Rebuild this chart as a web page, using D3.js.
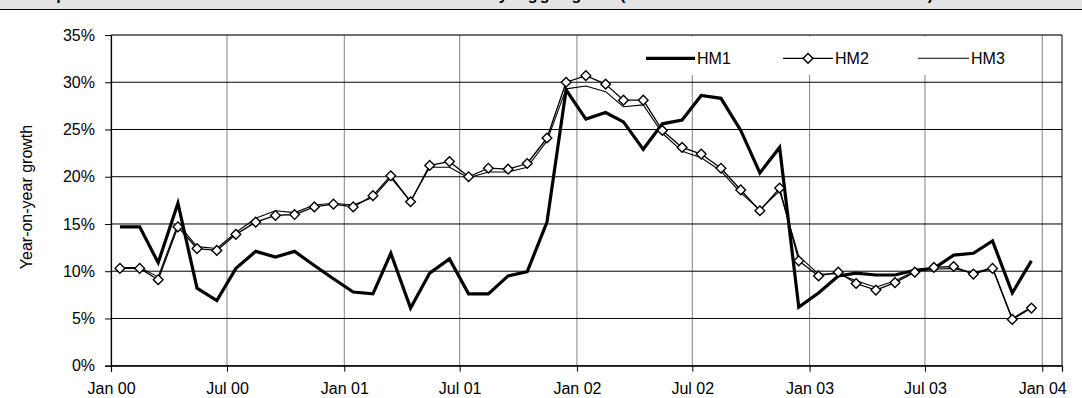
<!DOCTYPE html>
<html>
<head>
<meta charset="utf-8">
<script src="https://cdn.jsdelivr.net/npm/d3@7"></script>
<style>
  html, body { margin: 0; padding: 0; background: #fff; }
  svg { display: block; font-family: "Liberation Sans", Arial, sans-serif; }
</style>
</head>
<body>
<div id="chart"></div>
<script>
(function(){
// data: monthly observations, Jan 2000 - Dec 2003 (plotted mid-month)
const startMonth = "2000-01";
const hm1 = [14.7, 14.7, 10.9, 17.2, 8.2, 6.9, 10.3, 12.1, 11.5, 12.1, 10.6, 9.2,
             7.8, 7.6, 11.9, 6.1, 9.8, 11.3, 7.6, 7.6, 9.5, 9.95, 15.2, 29.2,
             26.1, 26.8, 25.8, 22.9, 25.6, 26.0, 28.6, 28.3, 24.9, 20.4, 23.1, 6.2,
             7.7, 9.5, 9.8, 9.6, 9.6, 10.1, 10.3, 11.7, 11.9, 13.2, 7.7, 11.1];
const hm2 = [10.3, 10.3, 9.1, 14.7, 12.4, 12.2, 13.9, 15.2, 15.9, 16.0, 16.8, 17.1,
             16.8, 18.0, 20.1, 17.35, 21.2, 21.6, 20.0, 20.9, 20.8, 21.4, 24.1, 30.0,
             30.7, 29.8, 28.1, 28.1, 24.9, 23.1, 22.4, 20.9, 18.6, 16.4, 18.8, 11.1,
             9.5, 9.9, 8.7, 8.0, 8.8, 9.9, 10.4, 10.5, 9.7, 10.3, 4.9, 6.1];
const hm3 = [10.4, 10.4, 9.4, 15.0, 12.6, 12.4, 14.1, 15.6, 16.4, 16.2, 17.0, 17.2,
             17.0, 17.8, 19.9, 17.4, 21.0, 21.0, 19.9, 20.5, 20.5, 21.0, 23.8, 29.3,
             29.6, 29.0, 27.4, 27.6, 24.6, 22.7, 22.0, 20.6, 18.3, 16.5, 18.5, 11.6,
             9.7, 9.7, 9.0, 8.3, 9.0, 10.0, 10.2, 10.3, 9.8, 10.4, 5.0, 6.2];
const seriesNames = ["HM1", "HM2", "HM3"];
const yTicks = [0, 5, 10, 15, 20, 25, 30, 35];
const xTickLabels = ["Jan 00", "Jul 00", "Jan 01", "Jul 01", "Jan 02", "Jul 02", "Jan 03", "Jul 03", "Jan 04"];
const titleText = "Comparison of the three HM totals broken down by aggregate (HM1 to HM3 in the latest terms)";

const W = 1082, H = 398;
const plot = { left: 111, right: 1062, top: 35, bottom: 365.7 };

const svg = d3.select("#chart").append("svg")
    .attr("width", W).attr("height", H);

// --- title strip (mostly cut off at the top, as in the source) ---
svg.append("rect").attr("x", 0).attr("y", 0).attr("width", W).attr("height", 9.5)
    .attr("fill", "#e4e4e4");
svg.append("text")
    .attr("x", 14).attr("y", 0)
    .attr("textLength", 919).attr("lengthAdjust", "spacing")
    .style("font-size", "16px").style("font-weight", "bold")
    .text(titleText);
svg.append("line").attr("x1", 0).attr("x2", W).attr("y1", 9.5).attr("y2", 9.5)
    .attr("stroke", "#000").attr("stroke-width", 1.2);

// --- scales ---
const parse = d3.timeParse("%Y-%m");
const t0 = parse(startMonth);
const dates = hm1.map((d, i) => d3.timeDay.offset(d3.timeMonth.offset(t0, i), 14));

const x = d3.scaleTime()
    .domain([parse("2000-01"), parse("2004-02")])
    .range([plot.left, plot.right]);
const y = d3.scaleLinear()
    .domain([0, 35])
    .range([plot.bottom, plot.top]);

const xTicks = d3.timeMonth.every(6).range(parse("2000-01"), parse("2004-02"));

// --- grid ---
const grid = svg.append("g");
grid.selectAll(".vg").data(xTicks).enter().append("line")
    .attr("x1", d => x(d)).attr("x2", d => x(d))
    .attr("y1", plot.top).attr("y2", plot.bottom)
    .attr("stroke", "#808080").attr("stroke-width", 1);
grid.selectAll(".hg").data(yTicks).enter().append("line")
    .attr("x1", plot.left).attr("x2", plot.right)
    .attr("y1", d => y(d)).attr("y2", d => y(d))
    .attr("stroke", "#000").attr("stroke-width", 1);

// frame
svg.append("line").attr("x1", plot.left).attr("x2", plot.right)
    .attr("y1", plot.top).attr("y2", plot.top).attr("stroke", "#606060");
svg.append("line").attr("x1", plot.right).attr("x2", plot.right)
    .attr("y1", plot.top).attr("y2", plot.bottom).attr("stroke", "#000");

// --- axes ---
const yAxis = d3.axisLeft(y).tickValues(yTicks).tickSize(6).tickPadding(10)
    .tickFormat(d => d + "%");
const gy = svg.append("g").attr("transform", `translate(${plot.left},0)`).call(yAxis);
const xAxis = d3.axisBottom(x).tickValues(xTicks).tickSize(6).tickPadding(11)
    .tickFormat((d, i) => xTickLabels[i]);
const gx = svg.append("g").attr("transform", `translate(0,${plot.bottom})`).call(xAxis);

[gx, gy].forEach(g => {
    g.select(".domain").attr("stroke", "#000").attr("stroke-width", 1.2);
    g.selectAll(".tick line").attr("stroke", "#000");
    g.selectAll("text").attr("fill", "#000")
        .style("font-size", "16px").style("font-family", "Liberation Sans, Arial, sans-serif");
});

svg.append("text")
    .attr("transform", `translate(32,197) rotate(-90)`)
    .attr("text-anchor", "middle")
    .style("font-size", "16px")
    .text("Year-on-year growth");

// --- legend (white box inside plot) ---
svg.append("rect").attr("x", 636).attr("y", 36.5).attr("width", 400).attr("height", 38.5)
    .attr("fill", "#fff");
const legendItems = [
    { name: seriesNames[0], x1: 646, x2: 695, w: 3.2, marker: false },
    { name: seriesNames[1], x1: 783, x2: 833, w: 1.3, marker: true },
    { name: seriesNames[2], x1: 918, x2: 969, w: 1.1, marker: false }
];
const ly = 58.3;
const lg = svg.append("g");
legendItems.forEach(it => {
    lg.append("line").attr("x1", it.x1).attr("x2", it.x2).attr("y1", ly).attr("y2", ly)
        .attr("stroke", "#000").attr("stroke-width", it.w);
    if (it.marker) {
        lg.append("path")
            .attr("transform", `translate(${(it.x1 + it.x2) / 2},${ly})`)
            .attr("d", d3.symbol(d3.symbolDiamond2, 60)())
            .attr("fill", "#fff").attr("stroke", "#000").attr("stroke-width", 1.4);
    }
    lg.append("text").attr("x", it.x2 + 2).attr("y", ly + 5.3)
        .style("font-size", "16px").text(it.name);
});

// --- series ---
const line = d3.line()
    .x((d, i) => x(dates[i]))
    .y(d => y(d));

svg.append("path").datum(hm3).attr("d", line)
    .attr("fill", "none").attr("stroke", "#000").attr("stroke-width", 1.1)
    .attr("stroke-linejoin", "round");
svg.append("path").datum(hm2).attr("d", line)
    .attr("fill", "none").attr("stroke", "#000").attr("stroke-width", 1.3)
    .attr("stroke-linejoin", "round");
svg.append("path").datum(hm1).attr("d", line)
    .attr("fill", "none").attr("stroke", "#000").attr("stroke-width", 3.2)
    .attr("stroke-linejoin", "miter");

svg.append("g").selectAll("path").data(hm2).enter().append("path")
    .attr("transform", (d, i) => `translate(${x(dates[i])},${y(d)})`)
    .attr("d", d3.symbol(d3.symbolDiamond2, 60)())
    .attr("fill", "#fff").attr("stroke", "#000").attr("stroke-width", 1.4);
})();
</script>
</body>
</html>
